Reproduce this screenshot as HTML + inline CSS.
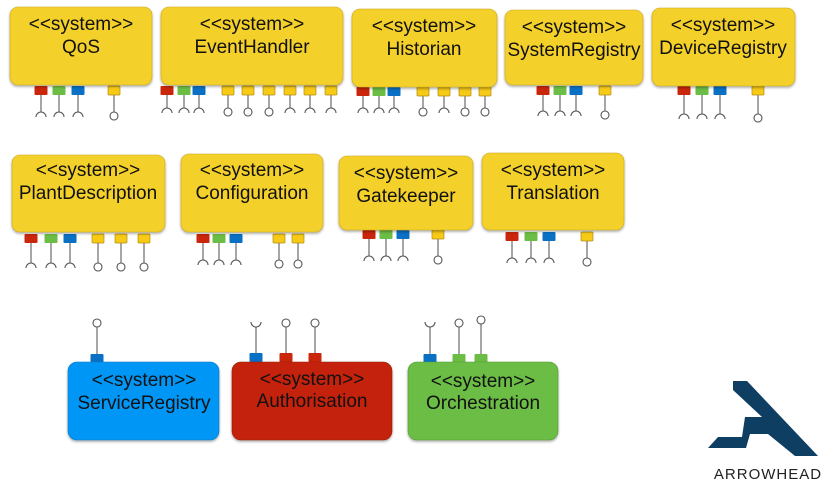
<!DOCTYPE html>
<html><head><meta charset="utf-8"><style>
html,body{margin:0;padding:0;background:#fff;width:839px;height:484px;overflow:hidden}
svg{display:block}
text{font-family:"Liberation Sans",Arial,sans-serif;font-size:19px;fill:#111;text-anchor:middle}
</style></head><body>
<svg id="s" width="839" height="484" viewBox="0 0 839 484">
<defs>
<filter id="sh" x="-10%" y="-10%" width="120%" height="130%"><feDropShadow dx="0" dy="1.5" stdDeviation="1.2" flood-color="#000" flood-opacity="0.35"/></filter>
</defs>
<g id="ports"></g>
<g filter="url(#sh)">
<rect x="10" y="7" width="142" height="78" rx="8" fill="#f4d02c" stroke="#c9a818" stroke-width="0.6"/>
<rect x="161" y="7" width="182" height="78" rx="8" fill="#f4d02c" stroke="#c9a818" stroke-width="0.6"/>
<rect x="352" y="9" width="145" height="78" rx="8" fill="#f4d02c" stroke="#c9a818" stroke-width="0.6"/>
<rect x="505" y="10" width="138" height="75" rx="8" fill="#f4d02c" stroke="#c9a818" stroke-width="0.6"/>
<rect x="652" y="8" width="143" height="78" rx="8" fill="#f4d02c" stroke="#c9a818" stroke-width="0.6"/>
<rect x="12" y="155" width="153" height="77" rx="8" fill="#f4d02c" stroke="#c9a818" stroke-width="0.6"/>
<rect x="181" y="154" width="142" height="78" rx="8" fill="#f4d02c" stroke="#c9a818" stroke-width="0.6"/>
<rect x="339" y="156" width="134" height="74" rx="8" fill="#f4d02c" stroke="#c9a818" stroke-width="0.6"/>
<rect x="482" y="153" width="142" height="77" rx="8" fill="#f4d02c" stroke="#c9a818" stroke-width="0.6"/>
<rect x="68" y="362" width="151" height="78" rx="9" fill="#0596f6" stroke="#0a78c0" stroke-width="0.6"/>
<rect x="232" y="362" width="160" height="78" rx="9" fill="#c42408" stroke="#9a1c06" stroke-width="0.6"/>
<rect x="408" y="362" width="150" height="78" rx="9" fill="#6cbd45" stroke="#559a35" stroke-width="0.6"/>
</g>
<text x="81" y="30">&lt;&lt;system&gt;&gt;</text><text x="81" y="53">QoS</text>
<text x="252" y="30">&lt;&lt;system&gt;&gt;</text><text x="252" y="53">EventHandler</text>
<text x="424" y="32">&lt;&lt;system&gt;&gt;</text><text x="424" y="55">Historian</text>
<text x="574" y="33">&lt;&lt;system&gt;&gt;</text><text x="574" y="56">SystemRegistry</text>
<text x="723" y="31">&lt;&lt;system&gt;&gt;</text><text x="723" y="54">DeviceRegistry</text>
<text x="88" y="176">&lt;&lt;system&gt;&gt;</text><text x="88" y="199">PlantDescription</text>
<text x="252" y="176">&lt;&lt;system&gt;&gt;</text><text x="252" y="199">Configuration</text>
<text x="406" y="179">&lt;&lt;system&gt;&gt;</text><text x="406" y="202">Gatekeeper</text>
<text x="553" y="176">&lt;&lt;system&gt;&gt;</text><text x="553" y="199">Translation</text>
<text x="144" y="386">&lt;&lt;system&gt;&gt;</text><text x="144" y="409">ServiceRegistry</text>
<text x="312" y="385">&lt;&lt;system&gt;&gt;</text><text x="312" y="407">Authorisation</text>
<text x="483" y="387">&lt;&lt;system&gt;&gt;</text><text x="483" y="409">Orchestration</text>
<path d="M733 381 L747 381 L818 456 L795 456 L768 434 L750 434 L746 448 L708 448 L718 437 L742 437 L745 417 L762 417 L733 390 Z" fill="#0f3e63"/>
<text x="768" y="479" style="font-size:15px;fill:#222;letter-spacing:1px">ARROWHEAD</text>
</svg>
<script>
var C={R:'#c9260b',G:'#6cbd45',B:'#0a70c4',Y:'#f7ca16'};
var g=document.getElementById('ports'),h='';
function p(x,y,end,c,t,up){
 var w=c=='Y'?12:13,hh=9;
 var py=up?y-hh:y;
 var ly1=up?y-hh:y+hh, ly2=end;
 h+='<line x1="'+x+'" y1="'+ly1+'" x2="'+x+'" y2="'+ly2+'" stroke="#777" stroke-width="1.3"/>';
 h+='<rect x="'+(x-w/2)+'" y="'+py+'" width="'+w+'" height="'+hh+'" rx="1" fill="'+C[c]+'" stroke="'+(c=='Y'?'#b08a10':'none')+'" stroke-width="0.7"/>';
 if(t=='o'){var cy=up?end-4:end+4;h+='<circle cx="'+x+'" cy="'+cy+'" r="4" fill="#fff" stroke="#555" stroke-width="1.1"/>';}
 else{ if(up) h+='<path d="M'+(x-5)+' '+(end-5)+' A5 5 0 0 0 '+(x+5)+' '+(end-5)+'" fill="none" stroke="#555" stroke-width="1.1"/>';
 else h+='<path d="M'+(x-5)+' '+(end+5)+' A5 5 0 0 1 '+(x+5)+' '+(end+5)+'" fill="none" stroke="#555" stroke-width="1.1"/>';}
}
function row(y,end,list){list.forEach(function(a){p(a[0],y,end,a[1],a[2],false);});}
row(86,112,[[41,'R','s'],[59,'G','s'],[78,'B','s'],[114,'Y','o']]);
row(86,108,[[167,'R','s'],[184,'G','s'],[199,'B','s'],[228,'Y','o'],[248,'Y','o'],[269,'Y','o'],[290,'Y','s'],[310,'Y','s'],[331,'Y','s']]);
row(87,108,[[363,'R','s'],[379,'G','s'],[394,'B','s'],[423,'Y','o'],[444,'Y','s'],[465,'Y','o'],[485,'Y','o']]);
row(86,111,[[543,'R','s'],[560,'G','s'],[576,'B','s'],[605,'Y','o']]);
row(86,114,[[684,'R','s'],[702,'G','s'],[720,'B','s'],[758,'Y','o']]);
row(234,263,[[31,'R','s'],[51,'G','s'],[70,'B','s'],[98,'Y','o'],[121,'Y','o'],[144,'Y','o']]);
row(234,260,[[203,'R','s'],[219,'G','s'],[236,'B','s'],[279,'Y','o'],[298,'Y','o']]);
row(230,256,[[369,'R','s'],[386,'G','s'],[403,'B','s'],[438,'Y','o']]);
row(232,258,[[512,'R','s'],[531,'G','s'],[549,'B','s'],[587,'Y','o']]);
p(97,363,327,'B','o',true);
p(256,362,327,'B','s',true);p(286,362,327,'R','o',true);p(315,362,327,'R','o',true);
p(430,363,327,'B','s',true);p(459,363,327,'G','o',true);p(481,363,324,'G','o',true);
g.innerHTML=h;
</script>
</body></html>
